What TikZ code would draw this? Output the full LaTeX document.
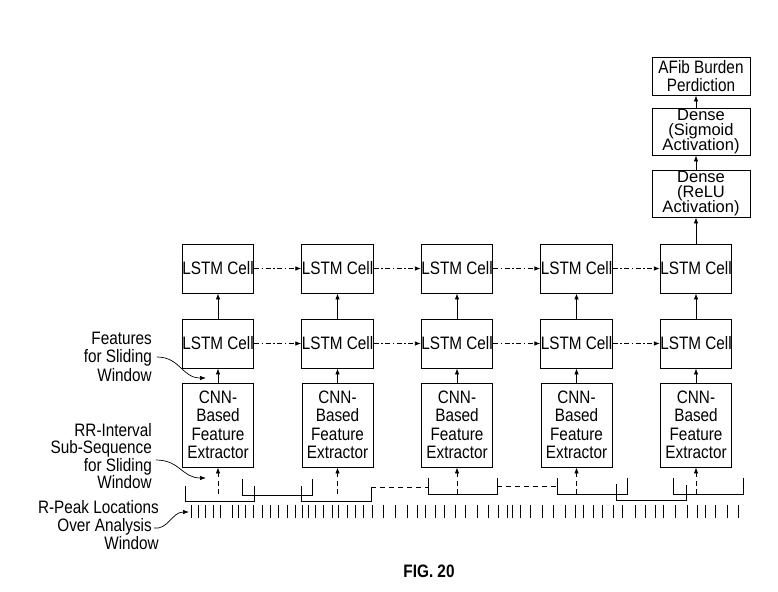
\documentclass[tikz,border=0pt]{standalone}
\usepackage{fontspec}
\setmainfont{Liberation Sans}[FakeStretch=0.85]
\newfontfamily\plainsans{Liberation Sans}
\newcommand\myDenseFont{\plainsans\fontsize{16.5}{15.2}\selectfont\setlength{\lineskiplimit}{-20pt}\relax}
\usetikzlibrary{arrows.meta}
\begin{document}
\begin{tikzpicture}[x=1pt,y=-1pt,
  font=\fontsize{18}{18.5}\selectfont,
  box/.style={draw, line width=0.9pt, inner sep=0pt, align=center, minimum width=71pt},
  lstm/.style={box, minimum height=49pt},
  cnn/.style={box, minimum height=84pt},
  topbox/.style={box, minimum width=98pt},
  densebox/.style={topbox, minimum height=47pt, font=\myDenseFont},
  arr/.style={-{Latex[length=6pt,width=4.5pt]}, line width=0.8pt},
  dd/.style={arr, dash pattern=on 5pt off 2.5pt on 1.5pt off 2.5pt},
  dsh/.style={arr, dash pattern=on 5pt off 3.5pt},
  brk/.style={line width=0.8pt},
  dline/.style={line width=0.8pt, dash pattern=on 5pt off 4pt},
  tick/.style={line width=0.9pt},
  lbl/.style={align=right, anchor=east, inner sep=0pt},
  curv/.style={-{Latex[length=6pt,width=4.5pt]}, line width=0.7pt}]
\useasboundingbox (0,0) rectangle (778,591);

% columns
\foreach \i/\x in {1/218,2/337.5,3/457,4/576.5,5/696} {
  \node[lstm] (a\i) at (\x,268.5) {LSTM Cell};
  \node[lstm] (b\i) at (\x,343.5) {LSTM Cell};
  \node[cnn] (c\i) at (\x,425) {CNN-\\Based\\Feature\\Extractor};
  \coordinate (w\i) at (\x,494);
  \draw[arr] (b\i) -- (a\i);
  \draw[arr] (c\i) -- (b\i);
  \draw[dsh] (w\i) -- (c\i.south);
}
\foreach \i/\j in {1/2,2/3,3/4,4/5} {
  \draw[dd] (a\i) -- (a\j);
  \draw[dd] (b\i) -- (b\j);
}

% top boxes
\node[topbox, minimum height=38pt] (afib) at (701,76) {AFib Burden\\Perdiction};
\node[densebox] (sig) at (701,131.5) {Dense\\(Sigmoid\\Activation)};
\node[densebox] (relu) at (701,193.5) {Dense\\(ReLU\\Activation)};
\draw[arr] (a5.north) -- (a5.north |- relu.south);
\draw[arr] (a5.north |- relu.north) -- (a5.north |- sig.south);
\draw[arr] (a5.north |- sig.north) -- (a5.north |- afib.south);

% left labels
\node[lbl, font=\fontsize{18}{18.5}\selectfont] (feat) at (152,356.5) {Features\\for Sliding\\Window};
\node[lbl, font=\fontsize{18}{17.5}\selectfont] (rr) at (152,456) {RR-Interval\\Sub-Sequence\\for Sliding\\Window};
\node[lbl, font=\fontsize{18}{18}\selectfont] (rp) at (159,525) {R-Peak Locations\\Over Analysis\kern7pt\\Window};

\coordinate (feat0) at (157,357);
\coordinate (feat1) at (206,378);
\coordinate (rr0) at (156,460);
\coordinate (rr1) at (206,478);
\coordinate (rp0) at (154,528);
\coordinate (rp1) at (189,512);
\draw[curv] (feat0) .. controls (180,357) and (182,378) .. (feat1);
\draw[curv] (rr0) .. controls (180,460) and (182,478) .. (rr1);
\draw[curv] (rp0) .. controls (168,530) and (172,512) .. (rp1);

% brackets (sliding windows)
\draw[brk] (185,486) -- (185,501) -- (254,501) -- (254,486);
\draw[brk] (242,479) -- (242,495) -- (312,495) -- (312,479);
\draw[brk] (301,486) -- (301,501) -- (371,501) -- (371,487);
\draw[dline] (371,487) -- (428,487);
\draw[brk] (428,478) -- (428,494) -- (497,494) -- (497,478);
\draw[dline] (497,486) -- (557,486);
\draw[brk] (557,478) -- (557,494) -- (627,494) -- (627,478);
\draw[brk] (616,484) -- (616,500) -- (686,500) -- (686,485);
\draw[brk] (673,478) -- (673,494) -- (743,494) -- (743,478);

% R-peak ticks
\foreach \t in {191,198,205,213,220,232,238,245,253,262,270,278,287,295,302,308,315,323,332,338,347,355,363,372,383,395,407,417,425,435,444,455,465,477,488,498,507,512,520,530,542,553,565,575,583,593,602,613,622,635,645,655,663,675,687,697,705,715,727,738}
  \draw[tick] (\t,505) -- (\t,518);

\node[font=\fontsize{18}{18}\selectfont\bfseries] (fig) at (429,571) {FIG. 20};
\end{tikzpicture}
\end{document}
